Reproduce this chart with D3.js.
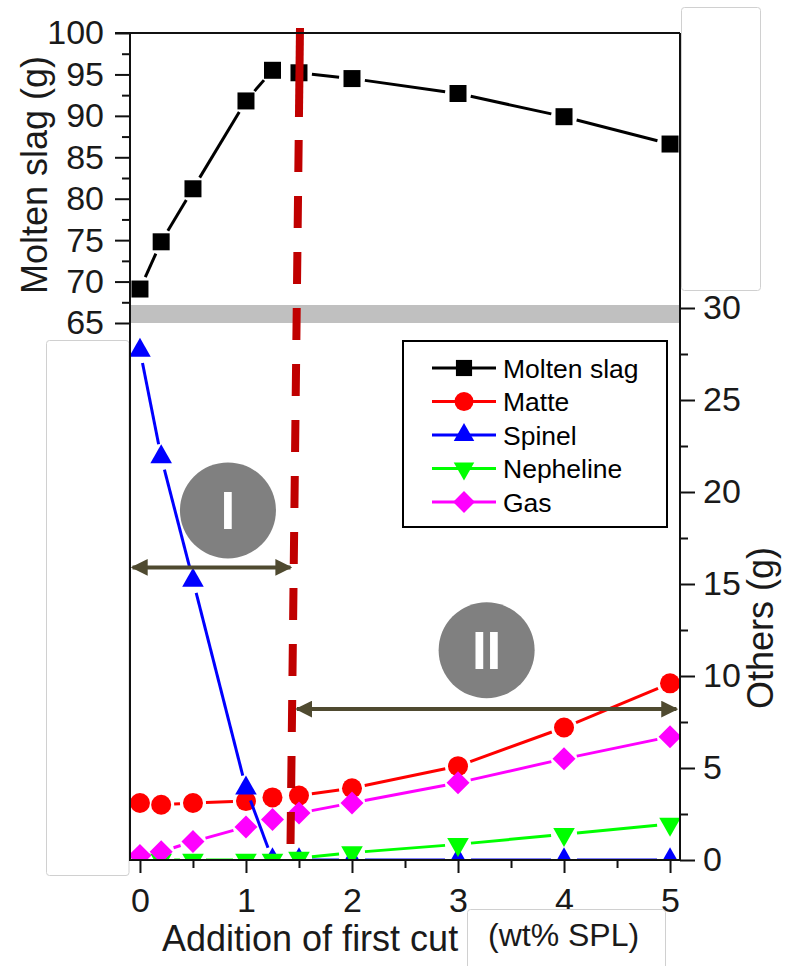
<!DOCTYPE html>
<html>
<head>
<meta charset="utf-8">
<script src="https://cdn.jsdelivr.net/npm/d3@7"></script>
<style>
  html, body { margin: 0; padding: 0; background: #fff; }
  svg { display: block; }
  text { font-family: "Liberation Sans", Arial, sans-serif; fill: #1a1a1a; }
</style>
</head>
<body>
<svg id="chart" width="788" height="966"></svg>
<script>
// First-cut SPL additions (wt%) and the phase amounts at each addition
const additions  = [0, 0.2, 0.5, 1, 1.25, 1.5, 2, 3, 4, 5];
const moltenSlag = [69.1, 74.8, 81.2, 91.8, 95.5, 95.2, 94.5, 92.7, 89.9, 86.6];
const matte      = [3.1, 3.0, 3.1, 3.2, 3.4, 3.5, 3.9, 5.1, 7.2, 9.6];
const spinel     = [27.7, 21.9, 15.2, 3.9, 0, 0, 0, 0, 0, 0];
const nepheline  = [0, 0, 0, 0, 0, 0.1, 0.4, 0.85, 1.4, 1.95];
const gas        = [0.25, 0.45, 1.0, 1.8, 2.2, 2.55, 3.1, 4.2, 5.5, 6.7];

const seriesNames  = ["Molten slag", "Matte", "Spinel", "Nepheline", "Gas"];
const seriesColors = ["#000000", "#ff0000", "#0000ff", "#00ff00", "#ff00ff"];
const seriesShapes = ["square", "circle", "triUp", "triDown", "diamond"];

const xTicks        = [0, 1, 2, 3, 4, 5];
const xMinorTicks   = [0.5, 1.5, 2.5, 3.5, 4.5];
const slagTicks     = [65, 70, 75, 80, 85, 90, 95, 100];
const slagMinor     = [67.5, 72.5, 77.5, 82.5, 87.5, 92.5, 97.5];
const othersTicks   = [0, 5, 10, 15, 20, 25, 30];
const othersMinor   = [2.5, 7.5, 12.5, 17.5, 22.5, 27.5];

// Regime annotations (data units)
const regimeBoundary = { xTop: 1.5, xBottom: 1.42 };
const regimeI  = { label: "I",  cx: 0.83, cy: 19.0, from: -0.07, to: 1.42, y: 15.9 };
const regimeII = { label: "II", cx: 3.27, cy: 11.4, from: 1.48, to: 5.06, y: 8.2 };

const svg = d3.select("#chart");

const left = 130, right = 680;
const topTop = 33, breakTop = 305, breakBottom = 323, bottomY = 860;

const x = d3.scaleLinear().domain([-0.094, 5.094]).range([left, right]);
const ySlag = d3.scaleLinear().domain([65, 100]).range([breakBottom, topTop]);
const yOther = d3.scaleLinear().domain([0, 30]).range([bottomY, 308]);

// Marker path generators (centred on the centroid)
function shapePath(shape, s) {
  const k = s || 1;
  if (shape === "square") { const h = 8.5 * k; return `M${-h},${-h}H${h}V${h}H${-h}Z`; }
  if (shape === "circle") { const r = 10 * k; return `M${r},0A${r},${r} 0 1,1 ${-r},0A${r},${r} 0 1,1 ${r},0Z`; }
  if (shape === "triUp") { const h = 19 * k, w = 10.8 * k; return `M0,${-2*h/3}L${w},${h/3}L${-w},${h/3}Z`; }
  if (shape === "triDown") { const h = 19 * k, w = 10.8 * k; return `M0,${2*h/3}L${w},${-h/3}L${-w},${-h/3}Z`; }
  if (shape === "diamond") { const d = 11.5 * k; return `M0,${-d}L${d},0L0,${d}L${-d},0Z`; }
}

const defs = svg.append("defs");
defs.append("clipPath").attr("id", "clipTop").append("rect")
  .attr("x", left).attr("y", topTop).attr("width", right - left).attr("height", breakTop - topTop);
defs.append("clipPath").attr("id", "clipBottom").append("rect")
  .attr("x", left).attr("y", breakBottom).attr("width", right - left).attr("height", bottomY - breakBottom);
defs.append("marker").attr("id", "arrowHead").attr("viewBox", "0 0 10 10")
  .attr("refX", 9).attr("refY", 5).attr("markerWidth", 4.2).attr("markerHeight", 4.2)
  .attr("markerUnits", "strokeWidth").attr("orient", "auto-start-reverse")
  .append("path").attr("d", "M0,0L10,5L0,10Z").attr("fill", "#4f4a30");

// Lines broken around each marker, then markers on top
function drawSeries(g, values, yScale, color, shape) {
  const pts = additions.map((a, i) => [x(a), yScale(values[i])]);
  const gap = 13;
  for (let i = 0; i < pts.length - 1; i++) {
    const [x1, y1] = pts[i], [x2, y2] = pts[i + 1];
    const d = Math.hypot(x2 - x1, y2 - y1);
    if (d <= 2 * gap + 2) continue;
    const ux = (x2 - x1) / d, uy = (y2 - y1) / d;
    g.append("line")
      .attr("x1", x1 + ux * gap).attr("y1", y1 + uy * gap)
      .attr("x2", x2 - ux * gap).attr("y2", y2 - uy * gap)
      .attr("stroke", color).attr("stroke-width", 3);
  }
  g.selectAll(null).data(pts).enter().append("path")
    .attr("transform", d => `translate(${d[0]},${d[1]})`)
    .attr("d", shapePath(shape)).attr("fill", color);
}

// Upper panel: molten slag
const gTop = svg.append("g").attr("clip-path", "url(#clipTop)");
drawSeries(gTop, moltenSlag, ySlag, seriesColors[0], seriesShapes[0]);

// Lower panel: minor phases
const gBottom = svg.append("g").attr("clip-path", "url(#clipBottom)");
drawSeries(gBottom, matte, yOther, seriesColors[1], seriesShapes[1]);
drawSeries(gBottom, spinel, yOther, seriesColors[2], seriesShapes[2]);
drawSeries(gBottom, nepheline, yOther, seriesColors[3], seriesShapes[3]);
drawSeries(gBottom, gas, yOther, seriesColors[4], seriesShapes[4]);

// Axis break band
svg.append("rect").attr("x", left).attr("y", breakTop).attr("width", right - left)
  .attr("height", breakBottom - breakTop).attr("fill", "#c0c0c0");

function styleAxis(g) {
  g.select(".domain").remove();
  g.selectAll(".tick line").attr("stroke", "#111").attr("stroke-width", 2);
  g.selectAll(".tick text").style("font-size", "34px").attr("fill", "#1a1a1a");
}

// Left axis (molten slag)
svg.append("g").attr("transform", `translate(${left},0)`)
  .call(d3.axisLeft(ySlag).tickValues(slagTicks).tickSize(15).tickPadding(11).tickFormat(d3.format("d")))
  .call(styleAxis);
svg.append("g").attr("transform", `translate(${left},0)`)
  .call(d3.axisLeft(ySlag).tickValues(slagMinor).tickSize(8).tickFormat(""))
  .call(styleAxis);

// Right axis (others)
svg.append("g").attr("transform", `translate(${right},0)`)
  .call(d3.axisRight(yOther).tickValues(othersTicks).tickSize(15).tickPadding(8).tickFormat(d3.format("d")))
  .call(styleAxis);
svg.append("g").attr("transform", `translate(${right},0)`)
  .call(d3.axisRight(yOther).tickValues(othersMinor).tickSize(8).tickFormat(""))
  .call(styleAxis);

// Bottom axis
svg.append("g").attr("transform", `translate(0,${bottomY})`)
  .call(d3.axisBottom(x).tickValues(xTicks).tickSize(13).tickPadding(15).tickFormat(d3.format("d")))
  .call(styleAxis);
svg.append("g").attr("transform", `translate(0,${bottomY})`)
  .call(d3.axisBottom(x).tickValues(xMinorTicks).tickSize(8).tickFormat(""))
  .call(styleAxis);

// Regime boundary (dashed)
const bx = yv => {
  const t = (yv - 28) / (845 - 28);
  return x(regimeBoundary.xTop) + 1 + t * (x(regimeBoundary.xBottom) - x(regimeBoundary.xTop) - 1);
};
const divider = svg.append("g").attr("stroke", "#c00000").attr("stroke-width", 8);
divider.append("line").attr("x1", bx(28)).attr("y1", 28).attr("x2", bx(117)).attr("y2", 117);
divider.append("line").attr("x1", bx(140)).attr("y1", 140).attr("x2", bx(845)).attr("y2", 845)
  .attr("stroke-dasharray", "32 24");

// Regime arrows
[regimeI, regimeII].forEach(r => {
  svg.append("line")
    .attr("x1", x(r.from)).attr("x2", x(r.to))
    .attr("y1", yOther(r.y)).attr("y2", yOther(r.y))
    .attr("stroke", "#4f4a30").attr("stroke-width", 4)
    .attr("marker-start", "url(#arrowHead)").attr("marker-end", "url(#arrowHead)");
  svg.append("circle").attr("cx", x(r.cx)).attr("cy", yOther(r.cy)).attr("r", 48)
    .attr("fill", "#808080");
  svg.append("text").attr("x", x(r.cx)).attr("y", yOther(r.cy))
    .attr("text-anchor", "middle").attr("dy", "0.36em")
    .style("font-size", "53px").style("font-weight", "bold").style("fill", "#ffffff")
    .text(r.label);
});

// Legend
const legend = svg.append("g");
legend.append("rect").attr("x", 403).attr("y", 341).attr("width", 264).attr("height", 186)
  .attr("fill", "#fff").attr("stroke", "#000").attr("stroke-width", 2);
seriesNames.forEach((name, i) => {
  const yy = 368 + i * 33.5;
  legend.append("line").attr("x1", 432).attr("x2", 496).attr("y1", yy).attr("y2", yy)
    .attr("stroke", seriesColors[i]).attr("stroke-width", 3);
  legend.append("path").attr("transform", `translate(464,${yy})`)
    .attr("d", shapePath(seriesShapes[i], 0.95)).attr("fill", seriesColors[i]);
  legend.append("text").attr("x", 503).attr("y", yy).attr("dy", "0.36em")
    .style("font-size", "26.5px").style("fill", "#000").text(name);
});

// Overlay panels
function panel(x0, y0, w, h) {
  svg.append("rect").attr("x", x0 + 0.5).attr("y", y0 + 0.5).attr("width", w).attr("height", h)
    .attr("rx", 3).attr("fill", "#fff").attr("stroke", "#d0d0d0").attr("stroke-width", 1);
}
panel(681, 7, 79, 283);
panel(46, 340, 82.5, 535);
panel(467, 909, 198, 70);

// Spines (drawn over the panels' edges)
const spine = svg.append("g").attr("stroke", "#111").attr("stroke-width", 2);
spine.append("line").attr("x1", 115).attr("x2", right).attr("y1", topTop).attr("y2", topTop);
spine.append("line").attr("x1", left).attr("x2", left).attr("y1", topTop).attr("y2", bottomY + 1);
spine.append("line").attr("x1", right).attr("x2", right).attr("y1", topTop).attr("y2", bottomY + 1);
spine.append("line").attr("x1", left - 1).attr("x2", right + 1).attr("y1", bottomY).attr("y2", bottomY);

// Axis titles
svg.append("text").attr("transform", "translate(47,175) rotate(-90)")
  .attr("text-anchor", "middle").style("font-size", "36px").text("Molten slag (g)");
svg.append("text").attr("transform", "translate(773,628) rotate(-90)")
  .attr("text-anchor", "middle").style("font-size", "36px").text("Others (g)");
svg.append("text").attr("x", 162).attr("y", 951)
  .style("font-size", "36px").text("Addition of first cut");
svg.append("text").attr("x", 488).attr("y", 946)
  .style("font-size", "32px").text("(wt% SPL)");
</script>
</body>
</html>
